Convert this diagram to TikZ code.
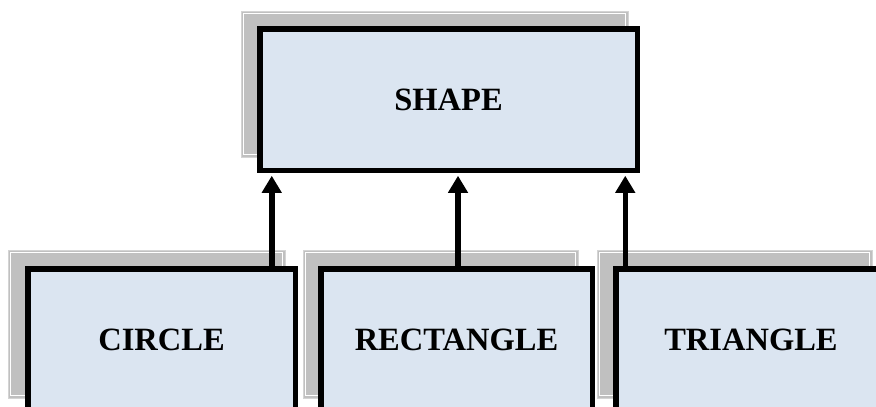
\documentclass[tikz,border=0pt]{standalone}
\usepackage{fontspec}
\setmainfont{Liberation Serif}
\usetikzlibrary{arrows.meta}
\definecolor{boxfill}{HTML}{DBE5F1}
\definecolor{shadowgray}{HTML}{C0C0C0}
\definecolor{shadowedge}{HTML}{D4D4D4}
\tikzset{
  classbox/.style={draw=black, line width=5.5pt, fill=boxfill, inner sep=0pt,
    font=\fontsize{32.5}{38}\selectfont\bfseries},
  shadowbox/.style={fill=shadowgray, draw=shadowedge, line width=0.8pt},
  shadowline/.style={draw=white, line width=0.8pt},
  inherit/.style={line width=5.5pt, -{Triangle[length=17pt,width=19pt]}}
}
\newcommand{\dropshadow}[4]{%
  \path[shadowbox] (#1,#2) rectangle (#3,#4);
  \path[shadowline] ([xshift=2.5pt,yshift=-2.5pt]#1,#2) rectangle ([xshift=-2.5pt,yshift=2.5pt]#3,#4);
}
\begin{document}
\begin{tikzpicture}[x=1pt,y=-1pt]
  \clip (0,0) rectangle (876,407);
  \fill[white] (0,0) rectangle (876,407);

  % shadows behind the boxes
  \dropshadow{241}{11}{628}{157}
  \dropshadow{8}{250}{285}{398}
  \dropshadow{303}{250}{578}{398}
  \dropshadow{597}{250}{872}{398}

  % base class
  \node[classbox, minimum width=377.5pt, minimum height=141.5pt] (shape) at (448.5,99.5) {SHAPE};

  % derived classes
  \node[classbox, minimum width=267.5pt, minimum height=141.25pt] (circle) at (161.5,339.4) {CIRCLE};
  \node[classbox, minimum width=271.5pt, minimum height=141.25pt] (rect) at (456.5,339.4) {RECTANGLE};
  \node[classbox, minimum width=270.5pt, minimum height=141.25pt] (tri) at (751,339.4) {TRIANGLE};

  % inheritance arrows
  \coordinate (a1) at ([xshift=-26.25pt]circle.north east);
  \coordinate (a2) at ([xshift=1.5pt]rect.north);
  \coordinate (a3) at ([xshift=12.25pt]tri.north west);
  \draw[inherit] (a1) -- ([yshift=-2.75pt]a1 |- shape.south);
  \draw[inherit] (a2) -- ([yshift=-2.75pt]a2 |- shape.south);
  \draw[inherit] (a3) -- ([yshift=-2.75pt]a3 |- shape.south);
\end{tikzpicture}
\end{document}
